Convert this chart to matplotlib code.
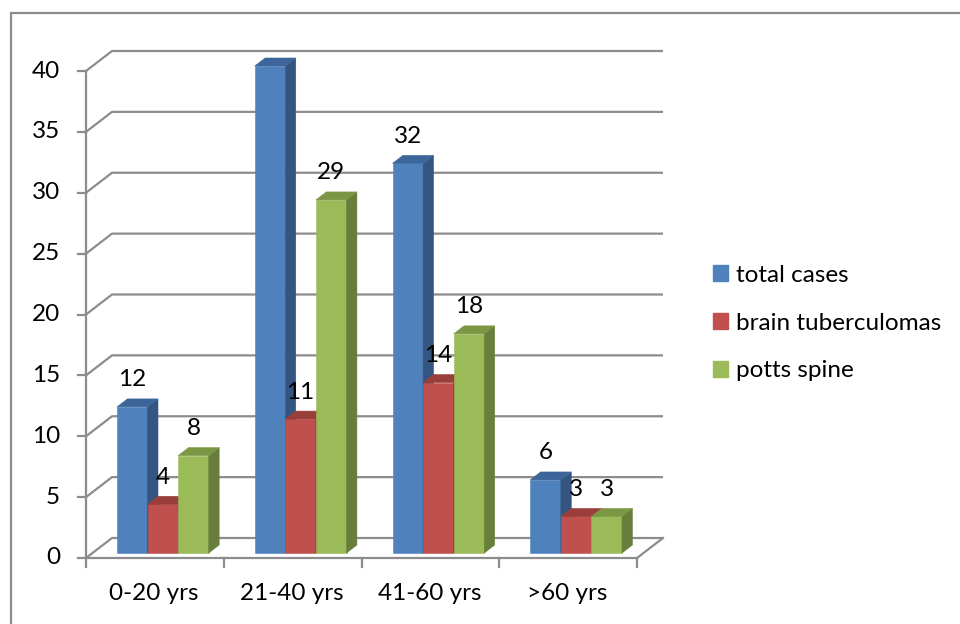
import matplotlib.pyplot as plt
from matplotlib.patches import Polygon, Rectangle, Patch

# age groups and counts
categories = ['0-20 yrs', '21-40 yrs', '41-60 yrs', '>60 yrs']
total_cases = [12, 40, 32, 6]
brain_tuberculomas = [4, 11, 14, 3]
potts_spine = [8, 29, 18, 3]
series_names = ['total cases', 'brain tuberculomas', 'potts spine']
yticks = [0, 5, 10, 15, 20, 25, 30, 35, 40]

front_col = ['#4F81BD', '#C0504D', '#9BBB59']
side_col = ['#34557F', '#8A3A37', '#687E3B']
top_col = ['#3C6599', '#9A3E3B', '#7B9744']
grid_col = '#8C8C8C'
FS = 17.5

plt.rcParams['font.family'] = ['Lato', 'DejaVu Sans']
plt.rcParams['font.size'] = FS

fig = plt.figure(figsize=(9.6, 6.24), dpi=100)
# front plane of the 3d box: x 86..637 px, value 0 at y=558 px, 40 at y=71 px
ax = fig.add_axes([86 / 960, 66 / 624, 551 / 960, 487 / 624])
ax.set_xlim(0, 4)
ax.set_ylim(0, 40)
ax.axis('off')

# oblique depth offset (full depth = 26 px right, 20 px up), in data units
DX = 26 * 4 / 551
DY = 20 * 40 / 487


def proj(x, v, d):
    return (x + d * DX, v + d * DY)


# walls / grid
for v in yticks:
    p0, p1, p2 = proj(0, v, 0), proj(0, v, 1), proj(4, v, 1)
    ax.plot([p0[0], p1[0], p2[0]], [p0[1], p1[1], p2[1]], color=grid_col, lw=1.6,
            clip_on=False, zorder=1, solid_capstyle='butt')
    # tick mark + label on the left axis
    ax.plot([-8 * 4 / 551, 0], [v, v], color=grid_col, lw=1.6, clip_on=False, zorder=1)
    ax.annotate(str(v), xy=(0, v), xytext=(-26, 0), textcoords='offset pixels',
                ha='right', va='center', fontsize=FS)

ax.plot([0, 0], [0, 40], color=grid_col, lw=1.6, clip_on=False, zorder=1)
# floor front and right edges
ax.plot([0, 4], [0, 0], color=grid_col, lw=1.6, clip_on=False, zorder=1)
f0, f1 = proj(4, 0, 0), proj(4, 0, 1)
ax.plot([f0[0], f1[0]], [f0[1], f1[1]], color=grid_col, lw=1.6, clip_on=False, zorder=1)
tick_len = 9 * 40 / 487
for i in range(len(categories) + 1):
    ax.plot([i, i], [0, -tick_len], color=grid_col, lw=1.6, clip_on=False, zorder=1)
for i, cat in enumerate(categories):
    ax.annotate(cat, xy=(i + 0.5, 0), xytext=(-1, -35), textcoords='offset pixels',
                ha='center', va='center', fontsize=FS)

# 3d columns
series = [total_cases, brain_tuberculomas, potts_spine]
w = 0.222
start = 0.178
d0, d1 = 0.25, 0.65
z = 2
for i in range(len(categories)):
    for j, vals in enumerate(series):
        v = vals[i]
        x0 = i + start + j * w
        x1 = x0 + w
        faces = [
            ([proj(x0, 0, d0), proj(x1, 0, d0), proj(x1, v, d0), proj(x0, v, d0)], front_col[j]),
            ([proj(x1, 0, d0), proj(x1, 0, d1), proj(x1, v, d1), proj(x1, v, d0)], side_col[j]),
            ([proj(x0, v, d0), proj(x1, v, d0), proj(x1, v, d1), proj(x0, v, d1)], top_col[j]),
        ]
        for pts, c in faces:
            ax.add_patch(Polygon(pts, closed=True, facecolor=c, edgecolor=c, lw=0.4,
                                 clip_on=False, zorder=z))
        z += 1
        ax.annotate(str(v), xy=proj((x0 + x1) / 2, v, d0), xytext=(0, 27),
                    textcoords='offset pixels', ha='center', va='center',
                    fontsize=FS, zorder=50)

handles = [Patch(facecolor=c, edgecolor=c) for c in front_col]
fig.legend(handles, series_names, loc='center left', bbox_to_anchor=(713 / 960, 301 / 624),
           frameon=False, fontsize=FS, handlelength=0.62, handleheight=0.62,
           handletextpad=0.33, labelspacing=1.1, borderpad=0, borderaxespad=0)

# outer chart border (cut off at right and bottom)
fig.add_artist(Rectangle((11 / 960, -0.1), 1.0, (624 - 13) / 624 + 0.1, transform=fig.transFigure,
                         fill=False, edgecolor=grid_col, lw=1.6))

plt.savefig('out.png', dpi=100)
